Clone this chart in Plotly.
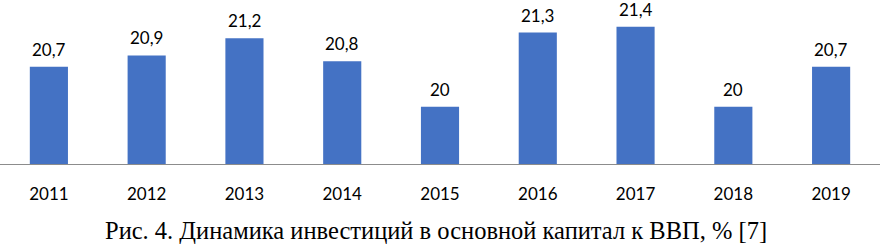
import plotly.graph_objects as go

years = ["2011", "2012", "2013", "2014", "2015", "2016", "2017", "2018", "2019"]
values = [20.7, 20.9, 21.2, 20.8, 20.0, 21.3, 21.4, 20.0, 20.7]
labels = ["20,7", "20,9", "21,2", "20,8", "20", "21,3", "21,4", "20", "20,7"]
caption = "Рис. 4. Динамика инвестиций в основной капитал к ВВП, % [7]"

fig = go.Figure()
fig.add_trace(go.Bar(x=years, y=values, marker=dict(color="#4472C4", line=dict(width=0)),
                     hoverinfo="skip"))

for i, (v, t) in enumerate(zip(values, labels)):
    fig.add_annotation(x=i, y=v, text=t, showarrow=False, yanchor="bottom", yshift=5,
                       font=dict(family="Lato", size=17, color="#000000"))

fig.add_annotation(x=0.495, y=0, xref="paper", yref="paper", yshift=-51, yanchor="top",
                   text=caption, showarrow=False,
                   font=dict(family="Liberation Serif", size=24.5, color="#000000"))

fig.update_layout(
    width=880, height=245,
    margin=dict(l=0, r=0, t=4, b=81),
    paper_bgcolor="white", plot_bgcolor="white",
    bargap=0.61, showlegend=False,
    xaxis=dict(type="category", range=[-0.5, len(years) - 0.5], showline=True,
               linecolor="#8C8C8C", linewidth=1, showgrid=False,
               ticks="outside", ticklen=15, tickcolor="rgba(0,0,0,0)",
               tickfont=dict(family="Lato", size=17, color="#000000")),
    yaxis=dict(range=[19.0, 21.8], visible=False, showgrid=False),
)

fig.write_html("out.html", config={"displayModeBar": False},
               post_script="document.body.style.margin='0';document.body.style.overflow='hidden';")
